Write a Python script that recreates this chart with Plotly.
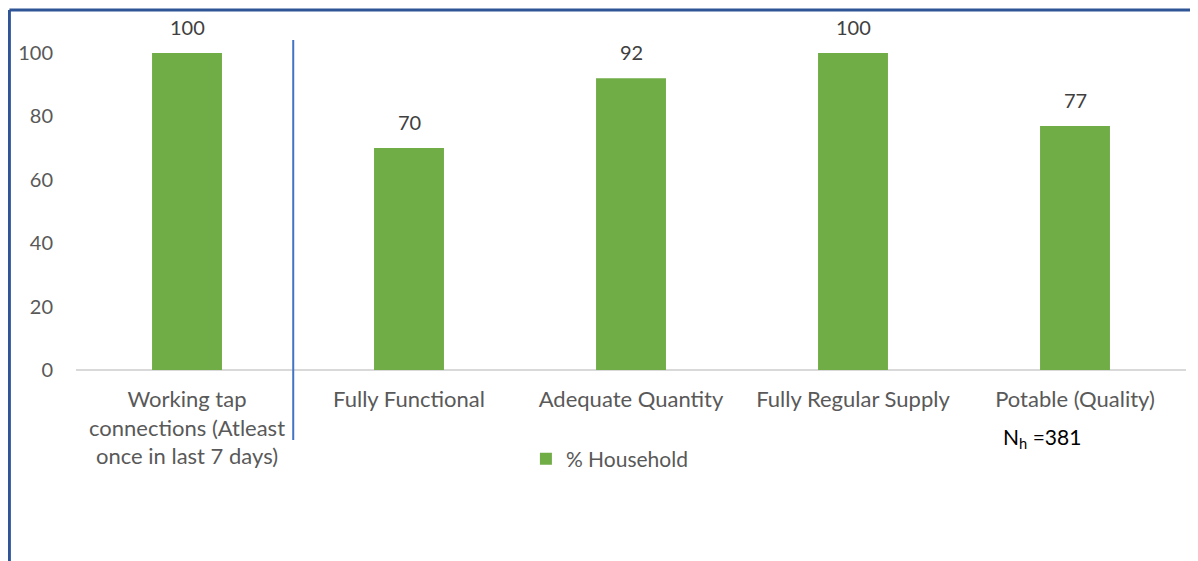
import plotly.graph_objects as go

categories = ["Working tap<br>connections (Atleast<br>once in last 7 days)",
              "Fully Functional", "Adequate Quantity", "Fully Regular Supply",
              "Potable (Quality)"]
values = [100, 70, 92, 100, 77]
series_name = "% Household"
y_ticks = [0, 20, 40, 60, 80, 100]
note = "N<sub>h</sub> =381"

FONT = "Lato, 'Open Sans', sans-serif"

fig = go.Figure()
fig.add_trace(go.Bar(
    x=categories, y=values, name=series_name,
    marker=dict(color="#70AD47", line=dict(width=0)),
    cliponaxis=False, width=0.315,
))

# data labels above bars
for c, v in zip(categories, values):
    fig.add_annotation(x=c, y=v, text=str(v), showarrow=False, yanchor="bottom",
                       yshift=12, font=dict(size=20, color="#404040", family=FONT))

fig.update_layout(
    width=1188, height=553,
    margin=dict(l=64, r=10, t=45, b=191),
    paper_bgcolor="white", plot_bgcolor="white",
    font=dict(family=FONT, size=22, color="#595959"),
    bargap=0.685,
    showlegend=True,
    legend=dict(orientation="h", x=0.481, y=-0.281, xanchor="center", yanchor="middle",
                font=dict(size=21, color="#595959"), itemwidth=30),
    xaxis=dict(showgrid=False, showline=False, ticks="", tickangle=0,
               ticklabelstandoff=14,
               tickfont=dict(size=22, color="#595959")),
    yaxis=dict(range=[0, 100], tickvals=y_ticks, showgrid=False, zeroline=True,
               zerolinecolor="#D9D9D9", zerolinewidth=1.5, showline=False,
               ticks="", ticklabelstandoff=22,
               tickfont=dict(size=20, color="#595959")),
)

# baseline across the full plot width
fig.add_shape(type="line", xref="paper", yref="y", x0=0, x1=1, y0=0, y1=0,
              line=dict(color="#D9D9D9", width=1.5), layer="below")
# divider line between first and other categories
fig.add_shape(type="line", xref="paper", yref="paper", x0=0.1957, x1=0.1957,
              y0=-0.221, y1=1.041, line=dict(color="#4472C4", width=2))
# frame lines
fig.add_shape(type="line", xref="paper", yref="paper", x0=-0.0600, x1=1.02,
              y0=1.1356, y1=1.1356, line=dict(color="#2F5597", width=3))
fig.add_shape(type="line", xref="paper", yref="paper", x0=-0.0600, x1=-0.0600,
              y0=1.1356, y1=-0.62, line=dict(color="#2F5597", width=3))

fig.add_annotation(text=note, xref="paper", yref="paper", x=0.870, y=-0.2145,
                   showarrow=False, font=dict(size=21, color="black", family=FONT),
                   xanchor="center", yanchor="middle")

fig.write_html("out.html")
